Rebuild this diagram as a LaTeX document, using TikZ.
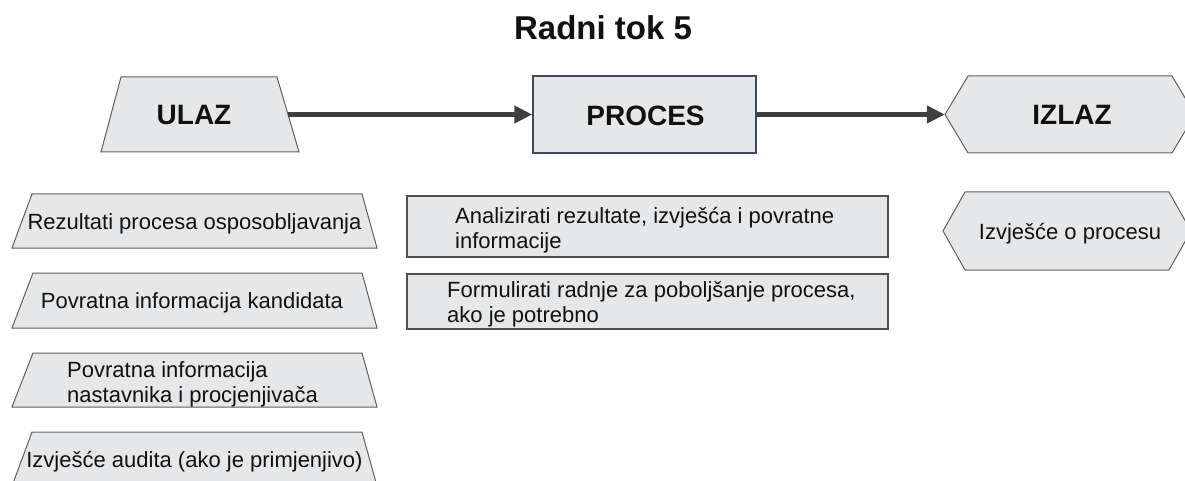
\documentclass[tikz,border=0pt]{standalone}
\usepackage{fontspec}
\setmainfont{Liberation Sans}
\usetikzlibrary{arrows.meta}
\definecolor{boxfill}{HTML}{E6E7E9}
\definecolor{trapline}{HTML}{5F5F5F}
\definecolor{procline}{HTML}{3D4B5C}
\definecolor{midline}{HTML}{505050}
\definecolor{arrowc}{HTML}{3F3F3F}
\definecolor{ink}{HTML}{111111}
\begin{document}
\begin{tikzpicture}[x=1pt,y=-1pt,
  shp/.style={fill=boxfill, draw=trapline, line width=1pt, line join=miter},
  midbox/.style={fill=boxfill, draw=midline, line width=1.5pt},
  big/.style={font=\fontsize{28}{34}\selectfont\bfseries, text=ink, inner sep=0pt, anchor=base},
  titlestyle/.style={font=\fontsize{33}{40}\selectfont\bfseries, text=ink, inner sep=0pt, anchor=base},
  small/.style={font=\fontsize{22}{25}\selectfont, text=ink, inner sep=0pt, anchor=base},
  multi/.style={font=\fontsize{22}{25}\selectfont, text=ink, inner sep=0pt, align=left, anchor=base west},
  link/.style={draw=arrowc, line width=4.5pt, -{Triangle[length=18pt,width=17pt]}},
  hub/.style={inner sep=0pt, minimum height=75pt}
]
\useasboundingbox (0,0) rectangle (1185,481);
\clip (0,0) rectangle (1185,481);

% title
\node[titlestyle] (title) at (603,40) {Radni tok 5};

% ULAZ
\path[shp] (121,77) -- (277,77) -- (299,152) -- (101,152) -- cycle;
\node[hub, minimum width=177pt] (ulaz) at (199.5,114.5) {};
\node[big] (ulazlbl) at (194,125) {ULAZ};

% PROCES
\node[draw=procline, fill=boxfill, line width=1.5pt, inner sep=0pt,
      minimum width=223pt, minimum height=77pt] (proces) at (644.5,114.5) {};
\node[big] (proceslbl) at (645.5,126) {PROCES};

% IZLAZ
\path[shp] (945,114.5) -- (968,76) -- (1172,76) -- (1195,114.5) -- (1172,153) -- (968,153) -- cycle;
\node[hub, minimum width=250pt] (izlaz) at (1070,114.5) {};
\node[big] (izlazlbl) at (1072,125) {IZLAZ};

% connectors
\draw[link] (ulaz.east) -- (proces.west);
\draw[link] (proces.east) -- (izlaz.west);

% input items
\path[shp] (32,194) -- (362,194) -- (377,248) -- (12,248) -- cycle;
\node[small] (in1) at (194.5,229) {Rezultati procesa osposobljavanja};

\path[shp] (33,273) -- (362,273) -- (377,328) -- (12,328) -- cycle;
\node[small] (in2) at (192,308.5) {Povratna informacija kandidata};

\path[shp] (33,353) -- (362,353) -- (377,407) -- (12,407) -- cycle;
\node[multi] (in3) at (67,402) {Povratna informacija\\nastavnika i procjenjivača};

\path[shp] (32,432) -- (362,432) -- (377,486) -- (12,486) -- cycle;
\node[small] (in4) at (194.5,467) {Izvješće audita (ako je primjenjivo)};

% process items
\path[midbox] (407,196) rectangle (888,257);
\node[multi] (pr1) at (455,248) {Analizirati rezultate, izvješća i povratne\\informacije};

\path[midbox] (407,274) rectangle (888,329);
\node[multi] (pr2) at (447,322) {Formulirati radnje za poboljšanje procesa,\\ako je potrebno};

% output item
\path[shp] (943,231) -- (965,192) -- (1169,192) -- (1191,231) -- (1169,270) -- (965,270) -- cycle;
\node[small] (out1) at (1070,239.5) {Izvješće o procesu};

\end{tikzpicture}
\end{document}
